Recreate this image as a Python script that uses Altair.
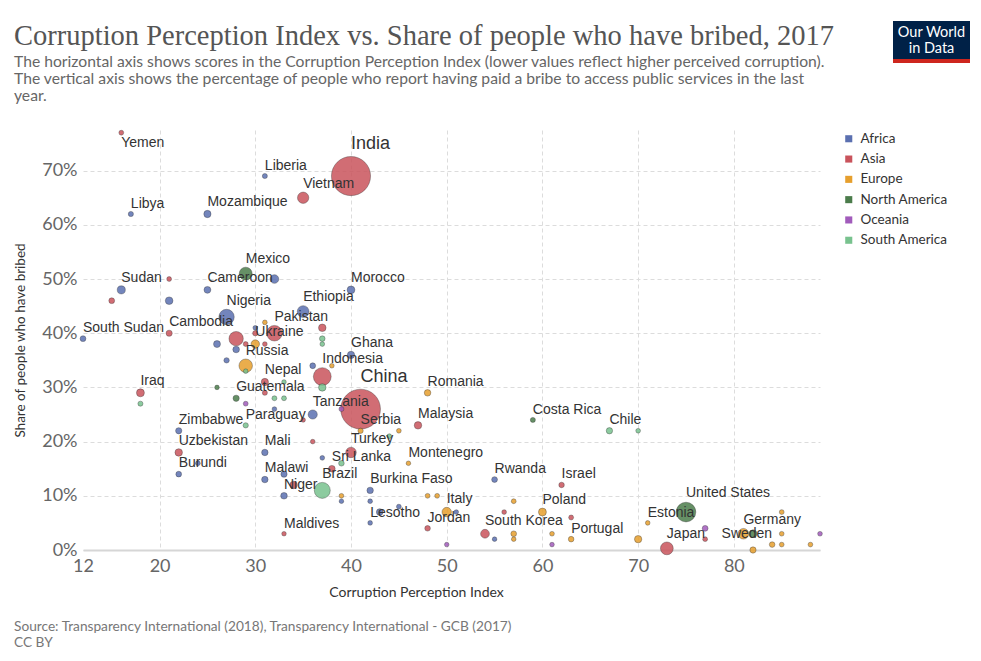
import altair as alt
import pandas as pd

TITLE = "Corruption Perception Index vs. Share of people who have bribed, 2017"
SUBTITLE = [
    "The horizontal axis shows scores in the Corruption Perception Index (lower values reflect higher perceived corruption).",
    "The vertical axis shows the percentage of people who report having paid a bribe to access public services in the last",
    "year.",
]
SOURCE = [
    "Source: Transparency International (2018), Transparency International - GCB (2017)",
    "CC BY",
]
X_TITLE = "Corruption Perception Index"
Y_TITLE = "Share of people who have bribed"
X_TICKS = [12, 20, 30, 40, 50, 60, 70, 80]
Y_TICKS = [0, 10, 20, 30, 40, 50, 60, 70]

CONTINENTS = ["Africa", "Asia", "Europe", "North America", "Oceania", "South America"]
COLORS = ["#5b70b0", "#c9535c", "#e69f2d", "#4b7c4b", "#a15bbb", "#78c28e"]

# labelled countries first, followed by unlabelled points
LABELLED = [
    "Yemen", "Liberia", "India", "Vietnam", "Libya", "Mozambique", "Mexico", "Cameroon",
    "Morocco", "Sudan", "Nigeria", "Ethiopia", "Pakistan", "Ukraine", "Cambodia", "South Sudan",
    "Russia", "Nepal", "Indonesia", "Ghana", "China", "Romania", "Guatemala", "Iraq",
    "Paraguay", "Tanzania", "Zimbabwe", "Uzbekistan", "Burundi", "Mali", "Malawi", "Niger",
    "Brazil", "Sri Lanka", "Turkey", "Serbia", "Malaysia", "Montenegro", "Burkina Faso", "Lesotho",
    "Italy", "Jordan", "Maldives", "South Korea", "Rwanda", "Costa Rica", "Chile", "Israel",
    "Poland", "Portugal", "Estonia", "United States", "Japan", "Germany", "Sweden",
]
CPI = [
    16, 31, 40, 35, 17, 25, 29, 25,
    40, 16, 27, 35, 32, 30, 21, 12,
    29, 31, 37, 40, 41, 48, 28, 18,
    29, 36, 22, 22, 22, 31, 31, 33,
    37, 38, 40, 41, 47, 46, 42, 42,
    50, 48, 33, 54, 55, 59, 67, 62,
    60, 63, 71, 75, 73, 81, 84,
    32, 21, 15, 21, 37, 37, 37, 30, 31, 30,
    31, 28, 28, 26, 27, 26, 29, 36, 38, 37,
    33, 32, 33, 32, 31, 29, 35, 39, 18, 24,
    33, 34, 36, 37, 39, 45, 44, 39, 39, 42,
    48, 49, 43, 45, 51, 50, 57, 56, 57, 57,
    55, 61, 61, 63, 70, 77, 77, 85, 85, 85,
    88, 89, 70, 82, 82, 29,
]
BRIBE = [
    77, 69, 69, 65, 62, 62, 51, 48,
    48, 48, 43, 44, 40, 38, 40, 39,
    34, 31, 32, 36, 26, 29, 28, 29,
    23, 25, 22, 18, 14, 18, 13, 10,
    11, 15, 18, 22, 23, 16, 11, 5,
    7, 4, 3, 3, 13, 24, 22, 12,
    7, 2, 5, 7, 0.3, 3, 1,
    50, 50, 46, 46, 41, 39, 38, 41, 42, 40,
    38, 39, 37, 38, 35, 30, 33, 34, 34, 30,
    31, 28, 28, 26, 29, 27, 24, 26, 27, 16,
    14, 12, 20, 17, 16, 22, 21, 10, 9, 9,
    10, 10, 7, 8, 7, 1, 9, 7, 3, 2,
    2, 3, 1, 6, 2, 4, 2, 7, 3, 1,
    1, 3, 22, 0, 3, 38,
]
CONTINENT = [
    "Asia", "Africa", "Asia", "Asia", "Africa", "Africa", "North America", "Africa",
    "Africa", "Africa", "Africa", "Africa", "Asia", "Europe", "Asia", "Africa",
    "Europe", "Asia", "Asia", "Africa", "Asia", "Europe", "North America", "Asia",
    "South America", "Africa", "Africa", "Asia", "Africa", "Africa", "Africa", "Africa",
    "South America", "Asia", "Asia", "Europe", "Asia", "Europe", "Africa", "Africa",
    "Europe", "Asia", "Asia", "Asia", "Africa", "North America", "South America", "Asia",
    "Europe", "Europe", "Europe", "North America", "Asia", "Europe", "Europe",
    "Africa", "Asia", "Asia", "Africa", "Asia", "South America", "South America", "Africa", "Europe", "Asia",
    "Asia", "Asia", "Africa", "Africa", "Africa", "North America", "South America", "Africa", "Europe", "South America",
    "South America", "South America", "South America", "Africa", "Asia", "Oceania", "Asia", "Oceania", "South America", "Africa",
    "Africa", "Asia", "Asia", "Africa", "South America", "Europe", "South America", "Europe", "Africa", "Africa",
    "Europe", "Europe", "Africa", "Africa", "Africa", "Oceania", "Europe", "Asia", "Europe", "Europe",
    "Africa", "Europe", "Oceania", "Asia", "Europe", "Oceania", "Asia", "Europe", "Europe", "Europe",
    "Europe", "Oceania", "South America", "Europe", "North America", "Asia",
]
POP = [
    3, 5, 1339, 96, 6, 29, 129, 24,
    36, 40, 191, 105, 197, 45, 16, 12,
    144, 29, 264, 29, 1386, 20, 17, 38,
    7, 57, 17, 32, 11, 19, 19, 21,
    209, 21, 81, 7, 32, 1, 19, 2,
    61, 10, 0.4, 51, 12, 5, 18, 9,
    38, 10, 1.3, 325, 127, 82, 10,
    49, 3, 12, 34, 33, 10, 2, 2, 2, 7,
    2, 165, 21, 25, 8, 1, 1, 12, 1, 32,
    1, 4, 4, 2, 5, 3, 1, 4, 5, 3,
    17, 31, 1, 2, 10, 2, 2, 2, 1, 2,
    3, 3, 22, 3, 1, 0.5, 3, 2, 11, 1,
    1, 2, 1, 4, 30, 12, 3, 3, 2, 2,
    2, 2, 2, 17, 36, 4,
]
NAMES = LABELLED + [""] * (len(CPI) - len(LABELLED))

df = pd.DataFrame({
    "name": NAMES,
    "cpi": CPI,
    "bribe": BRIBE,
    "continent": CONTINENT,
    "pop": POP,
})

W, H = 737, 420
Y_MAX = 77.5
SIZE_RANGE = [20, 1600]
POP_MAX = 1400

x_scale = alt.Scale(domain=[12, 89], nice=False, zero=False)
y_scale = alt.Scale(domain=[0, Y_MAX], nice=False, zero=True)

x_axis = alt.Axis(
    values=X_TICKS,
    grid=True,
    gridDash=[4, 3],
    gridColor={"condition": {"test": "datum.value == 12", "value": "transparent"}, "value": "#dcdcdc"},
    ticks=False,
    domain=True,
    domainColor="#d6d6d6",
    domainWidth=2,
    labelFlush=False,
    labelFont="Lato",
    labelFontSize=18,
    labelColor="#666666",
    labelPadding=7,
    titleFont="Lato",
    titleFontSize=14,
    titleFontWeight="normal",
    titleColor="#333333",
    titleX=333,
    titleY=42,
    titleBaseline="middle",
)
y_axis = alt.Axis(
    values=Y_TICKS,
    labelExpr="datum.value + '%'",
    grid=True,
    gridDash=[4, 3],
    gridColor="#dcdcdc",
    ticks=False,
    domain=False,
    labelFlush=False,
    labelFont="Lato",
    labelFontSize=18,
    labelColor="#666666",
    labelPadding=6,
    titleFont="Lato",
    titleFontSize=13.5,
    titleFontWeight="normal",
    titleColor="#333333",
    titleX=-63,
    titleY=H / 2,
    titleBaseline="middle",
)

x_enc = alt.X("cpi:Q", title=X_TITLE, scale=x_scale, axis=x_axis)
y_enc = alt.Y("bribe:Q", title=Y_TITLE, scale=y_scale, axis=y_axis)
ly_enc = alt.Y("ly:Q", title=Y_TITLE, scale=y_scale, axis=y_axis)

base = alt.Chart(df)

points = base.mark_circle(
    fillOpacity=0.85, stroke="#333333", strokeWidth=0.6, strokeOpacity=0.6
).encode(
    x=x_enc,
    y=y_enc,
    color=alt.Color(
        "continent:N",
        title=None,
        scale=alt.Scale(domain=CONTINENTS, range=COLORS),
        legend=alt.Legend(
            orient="none",
            legendX=759,
            legendY=2,
            padding=0,
            symbolType="square",
            symbolSize=50,
            symbolStrokeWidth=0,
            symbolOpacity=1,
            labelFont="Lato",
            labelFontSize=13.5,
            labelColor="#333333",
            labelOffset=5,
            rowPadding=5.3,
        ),
    ),
    size=alt.Size("pop:Q", scale=alt.Scale(domain=[0, POP_MAX], range=SIZE_RANGE), legend=None),
    order=alt.Order("pop:Q", sort="descending"),
)

# label anchor: just above (or below) the bubble's edge, converted to data units
radius_px = f"sqrt(({SIZE_RANGE[0]} + datum.pop * {SIZE_RANGE[1] - SIZE_RANGE[0]} / {POP_MAX}) / PI)"
px_to_y = f"{Y_MAX} / {H}"

labels_above = base.transform_filter(
    "datum.name != '' && datum.name != 'Yemen' && datum.name != 'Sweden'"
).transform_calculate(
    ly=f"datum.bribe + ({radius_px} + 0.5) * {px_to_y}"
).mark_text(
    align="left", baseline="bottom", font="Liberation Sans", color="#333333"
).encode(
    x=x_enc,
    y=ly_enc,
    text="name:N",
    size=alt.condition("datum.pop > 1000", alt.value(18), alt.value(14)),
)

labels_below = base.transform_filter(
    "datum.name == 'Yemen'"
).transform_calculate(
    ly=f"datum.bribe - ({radius_px} + 0.5) * {px_to_y}"
).mark_text(
    align="left", baseline="top", font="Liberation Sans", fontSize=14, color="#333333"
).encode(
    x=x_enc,
    y=ly_enc,
    text="name:N",
)

labels_left = base.transform_filter(
    "datum.name == 'Sweden'"
).transform_calculate(
    ly=f"datum.bribe + ({radius_px} + 0.5) * {px_to_y}"
).mark_text(
    align="right", baseline="bottom", font="Liberation Sans", fontSize=14, color="#333333"
).encode(
    x=x_enc,
    y=ly_enc,
    text="name:N",
)

one = pd.DataFrame({"k": [0]})

title = alt.Chart(one).mark_text(
    text=TITLE, align="left", baseline="alphabetic",
    font="Liberation Serif", fontSize=28.5, color="#555555",
).encode(x=alt.value(-69), y=alt.value(-85))

subtitle = alt.Chart(one).mark_text(
    text=SUBTITLE, align="left", baseline="top", lineHeight=17,
    font="Lato", fontSize=15.7, color="#666666",
).encode(x=alt.value(-69), y=alt.value(-75))

footer = alt.Chart(one).mark_text(
    text=SOURCE, align="left", baseline="top", lineHeight=16,
    font="Lato", fontSize=13.7, color="#777777",
).encode(x=alt.value(-69), y=alt.value(490))

logo_box = alt.Chart(one).mark_rect(color="#002147").encode(
    x=alt.value(810), x2=alt.value(887), y=alt.value(-109), y2=alt.value(-71)
)
logo_bar = alt.Chart(one).mark_rect(color="#ce261e").encode(
    x=alt.value(810), x2=alt.value(887), y=alt.value(-71), y2=alt.value(-67)
)
logo_line1 = alt.Chart(one).mark_text(
    text="Our World", align="center", baseline="middle",
    font="Lato", fontSize=14.5, color="#ffffff",
).encode(x=alt.value(848.5), y=alt.value(-97))
logo_line2 = alt.Chart(one).mark_text(
    text="in Data", align="center", baseline="middle",
    font="Lato", fontSize=14.5, color="#ffffff",
).encode(x=alt.value(848.5), y=alt.value(-81))

chart = alt.layer(
    points, labels_above, labels_below, labels_left,
    title, subtitle, footer, logo_box, logo_bar, logo_line1, logo_line2,
).properties(
    width=W,
    height=H,
    autosize=alt.AutoSizeParams(type="none"),
    padding={"left": 75, "top": 122, "right": 153, "bottom": 103},
    background="#ffffff",
).configure_view(strokeWidth=0)

chart.save("out.html", embed_options={"renderer": "svg", "actions": False})
